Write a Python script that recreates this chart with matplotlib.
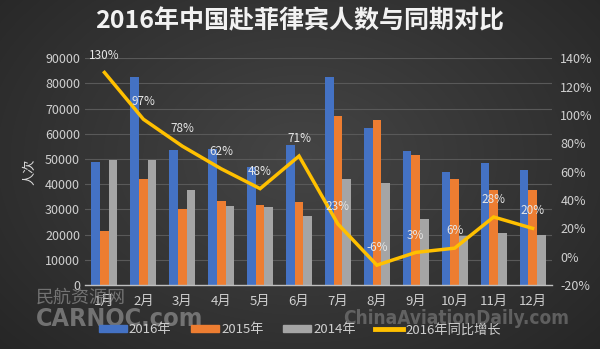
import numpy as np
import matplotlib
matplotlib.use("Agg")
import matplotlib.pyplot as plt
from matplotlib.lines import Line2D
from matplotlib.patches import Patch

plt.rcParams['font.family'] = ['Noto Sans CJK SC', 'DejaVu Sans']

months = ['1月', '2月', '3月', '4月', '5月', '6月', '7月', '8月', '9月', '10月', '11月', '12月']
visitors_2016 = [48900, 82400, 53700, 54000, 46900, 55700, 82400, 62400, 53200, 44700, 48400, 45600]
visitors_2015 = [21300, 41900, 30300, 33200, 31700, 32800, 66900, 65600, 51600, 42000, 37600, 37600]
visitors_2014 = [49700, 49700, 37900, 31300, 30900, 27300, 42000, 40400, 26300, 19300, 20700, 20000]
growth_2016 = [130, 97, 78, 62, 48, 71, 23, -6, 3, 6, 28, 20]

W, H = 600, 349
fig = plt.figure(figsize=(W / 100, H / 100), dpi=100)

# radial dark background
bg = fig.add_axes([0, 0, 1, 1])
yy, xx = np.mgrid[0:H, 0:W]
r = np.sqrt(((xx - W * 0.5) / (W * 0.62)) ** 2 + ((yy - H * 0.45) / (H * 0.75)) ** 2)
shade = np.clip(0.27 - 0.11 * r, 0.12, 0.3)
bg.imshow(np.dstack([shade] * 3), extent=[0, W, H, 0], aspect='auto')
bg.set_xlim(0, W)
bg.set_ylim(H, 0)
bg.axis('off')

left, right_px, top, bottom = 85, 552, 58.3, 285
ax = fig.add_axes([left / W, (H - bottom) / H, (right_px - left) / W, (bottom - top) / H])
ax.patch.set_alpha(0)

x = np.arange(len(months))
bw = 0.222
ax.bar(x - bw, visitors_2016, bw, color='#4472C4', zorder=2)
ax.bar(x, visitors_2015, bw, color='#ED7D31', zorder=2)
ax.bar(x + bw, visitors_2014, bw, color='#A5A5A5', zorder=2)

ax.set_xlim(-0.5, len(months) - 0.5)
ax.set_ylim(0, 90000)
ax.set_yticks(np.arange(0, 90001, 10000))
ax.yaxis.grid(True, color='#595959', lw=0.8, zorder=0)
ax.set_axisbelow(True)
for s in ['left', 'right', 'top']:
    ax.spines[s].set_visible(False)
ax.spines['bottom'].set_color('#bfbfbf')
ax.spines['bottom'].set_linewidth(1.0)
ax.tick_params(axis='both', length=0, colors='#d0d0d0', labelsize=9)
ax.tick_params(axis='x', pad=7, labelsize=9.5)
ax.set_xticks(x)
ax.set_xticklabels(months)
ax.set_ylabel('人次', color='#d9d9d9', fontsize=9.5, labelpad=6)

ax2 = ax.twinx()
ax2.set_ylim(-20, 140)
ax2.set_yticks(np.arange(-20, 141, 20))
ax2.set_yticklabels([f'{v}%' for v in range(-20, 141, 20)])
for s in ax2.spines.values():
    s.set_visible(False)
ax2.tick_params(axis='y', length=0, colors='#d0d0d0', labelsize=9, pad=6)
ax2.plot(x, growth_2016, color='#FFC000', lw=2.5, solid_joinstyle='miter', zorder=3)
for xi, g in zip(x, growth_2016):
    ax2.annotate(f'{g}%', (xi, g), xytext=(0, 12.5), textcoords='offset points',
                 ha='center', va='center', fontsize=8.5, color='#e6e6e6', zorder=4)

fig.text(0.5, 1 - 21 / H, '2016年中国赴菲律宾人数与同期对比', ha='center', va='center',
         fontsize=18, fontweight='bold', color='#f2f2f2')

# site watermarks, each sized to span a given pixel width
renderer = fig.canvas.get_renderer()


def watermark(s, x0, x1, yc, alpha, **kw):
    t = fig.text(x0 / W, 1 - yc / H, s, fontsize=12, color='#8a8a8a', alpha=alpha,
                 va='center', ha='left', **kw)
    w = t.get_window_extent(renderer).width
    t.set_fontsize(12 * (x1 - x0) / w)
    return t


watermark('民航资源网', 36, 126, 298, 0.75)
watermark('CARNOC.com', 36, 203, 319, 0.75, fontweight='bold',
          family='DejaVu Sans', fontstretch='condensed')
watermark('ChinaAviationDaily.com', 343, 569, 319, 0.55, fontweight='bold',
          family='DejaVu Sans', fontstretch='condensed')

handles = [Patch(color='#4472C4'), Patch(color='#ED7D31'), Patch(color='#A5A5A5'),
           Line2D([], [], color='#FFC000', lw=3.5)]
labels = ['2016年', '2015年', '2014年', '2016年同比增长']
fig.legend(handles, labels, loc='center', bbox_to_anchor=(0.5, 1 - 330 / H), ncol=4,
           frameon=False, fontsize=9.5, labelcolor='#d0d0d0', handlelength=2.1,
           handleheight=0.45, handletextpad=0.15, columnspacing=1.5)

fig.savefig('out.png', dpi=100)
